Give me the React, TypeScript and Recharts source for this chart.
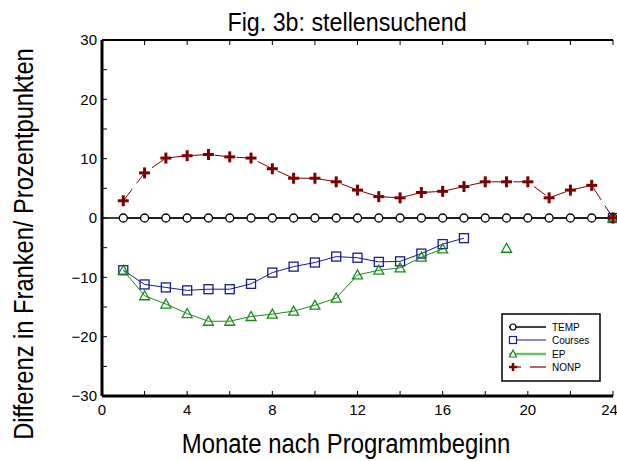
import React from 'react';
import {
  LineChart,
  Line,
  XAxis,
  YAxis,
  ReferenceLine,
} from 'recharts';

const months = [1, 2, 3, 4, 5, 6, 7, 8, 9, 10, 11, 12, 13, 14, 15, 16, 17, 18, 19, 20, 21, 22, 23, 24];
const tempValues = [0, 0, 0, 0, 0, 0, 0, 0, 0, 0, 0, 0, 0, 0, 0, 0, 0, 0, 0, 0, 0, 0, 0, 0];
const coursesValues = [-8.8, -11.2, -11.7, -12.2, -12.0, -12.0, -11.1, -9.2, -8.2, -7.5, -6.5, -6.7, -7.4, -7.3, -6.0, -4.4, -3.4, null, null, null, null, null, null, 0];
const epValues = [-8.8, -13.1, -14.5, -16.1, -17.4, -17.4, -16.6, -16.2, -15.7, -14.7, -13.5, -9.6, -8.8, -8.4, -6.6, -5.2, null, null, -5.1, null, null, null, null, 0];
const nonpValues = [2.9, 7.6, 10.1, 10.5, 10.7, 10.3, 10.1, 8.3, 6.7, 6.7, 6.1, 4.7, 3.6, 3.4, 4.3, 4.5, 5.3, 6.1, 6.1, 6.1, 3.4, 4.7, 5.5, 0];

const xTicks = [0, 2, 4, 6, 8, 10, 12, 14, 16, 18, 20, 22, 24];
const yTicks = [-30, -25, -20, -15, -10, -5, 0, 5, 10, 15, 20, 25, 30];

const seriesNames = ['TEMP', 'Courses', 'EP', 'NONP'];

const data = months.map((m, i) => ({
  month: m,
  temp: tempValues[i],
  courses: coursesValues[i],
  ep: epValues[i],
  nonp: nonpValues[i],
}));

const RED = '#7d0000';
const BLUE = '#1c1c8c';
const GREEN = '#1a8c1a';
const FONT = '"Liberation Sans", Arial, sans-serif';

const xFmt = (v: number) => (v % 4 === 0 ? String(v) : '');
const yFmt = (v: number) => (v % 10 === 0 ? (v < 0 ? '\u2212' + Math.abs(v) : String(v)) : '');
const blank = () => '';

const ok = (p: any) => p.cx != null && p.cy != null && p.value != null && !Number.isNaN(p.cy);

const CircleDot = (p: any) =>
  ok(p) ? <circle key={p.index} cx={p.cx} cy={p.cy} r={4} fill="white" stroke="#000" strokeWidth={1.3} /> : <g key={p.index} />;

const SquareDot = (p: any) =>
  ok(p) ? (
    <rect key={p.index} x={p.cx - 4.5} y={p.cy - 4.5} width={9} height={9} fill="none" stroke={BLUE} strokeWidth={1.3} />
  ) : (
    <g key={p.index} />
  );

const TriangleDot = (p: any) =>
  ok(p) ? (
    <polygon
      key={p.index}
      points={`${p.cx},${p.cy - 5} ${p.cx - 5},${p.cy + 4} ${p.cx + 5},${p.cy + 4}`}
      fill="none"
      stroke={GREEN}
      strokeWidth={1.3}
    />
  ) : (
    <g key={p.index} />
  );

const PlusDot = (p: any) =>
  ok(p) ? (
    <g key={p.index}>
      <line x1={p.cx - 5.5} y1={p.cy} x2={p.cx + 5.5} y2={p.cy} stroke={RED} strokeWidth={3} />
      <line x1={p.cx} y1={p.cy - 5.5} x2={p.cx} y2={p.cy + 5.5} stroke={RED} strokeWidth={3} />
    </g>
  ) : (
    <g key={p.index} />
  );

// legend box drawn as its own little svg on top of the chart
const LegendBox = () => {
  const rows = [14, 27, 41, 54];
  return (
    <svg width={100} height={70} style={{ display: 'block' }}>
      <rect x={1} y={1} width={98} height={67} fill="white" stroke="#000" strokeWidth={1.5} />
      <line x1={8} y1={rows[0]} x2={45} y2={rows[0]} stroke="#444" strokeWidth={2} />
      <circle cx={12} cy={rows[0]} r={3} fill="white" stroke="#000" strokeWidth={1.2} />
      <line x1={8} y1={rows[1]} x2={45} y2={rows[1]} stroke={BLUE} strokeWidth={1.2} />
      <rect x={8.5} y={rows[1] - 3.5} width={7} height={7} fill="white" stroke={BLUE} strokeWidth={1.2} />
      <line x1={8} y1={rows[2]} x2={45} y2={rows[2]} stroke="#6cbf6c" strokeWidth={2.5} />
      <polygon points={`12,${rows[2] - 4} 8.5,${rows[2] + 3} 15.5,${rows[2] + 3}`} fill="white" stroke={GREEN} strokeWidth={1.2} />
      <line x1={8} y1={rows[3]} x2={20} y2={rows[3]} stroke={RED} strokeWidth={1.2} />
      <line x1={29} y1={rows[3]} x2={45} y2={rows[3]} stroke={RED} strokeWidth={1.2} />
      <line x1={8} y1={rows[3]} x2={16} y2={rows[3]} stroke={RED} strokeWidth={2.5} />
      <line x1={12} y1={rows[3] - 4} x2={12} y2={rows[3] + 4} stroke={RED} strokeWidth={2.5} />
      {seriesNames.map((n, i) => (
        <text key={n} x={51} y={rows[i] + 3.5} fontSize={10} fontFamily={FONT} fill="#000">
          {n}
        </text>
      ))}
    </svg>
  );
};

// the original uses a narrow Helvetica, so the big labels are squeezed horizontally
const TitleLabel = () => (
  <text transform="translate(347,31) scale(0.895,1)" textAnchor="middle" fontSize={26} fontFamily={FONT} fill="#000">
    Fig. 3b: stellensuchend
  </text>
);

const XLabel = () => (
  <text transform="translate(346,453) scale(0.855,1)" textAnchor="middle" fontSize={28} fontFamily={FONT} fill="#000">
    Monate nach Programmbeginn
  </text>
);

const YLabel = () => (
  <text transform="translate(33,244) rotate(-90) scale(0.877,1)" textAnchor="middle" fontSize={27} fontFamily={FONT} fill="#000">
    Differenz in Franken/ Prozentpunkten
  </text>
);

const tickStyle = { fontSize: 15, fill: '#000', fontFamily: FONT };

export default function App() {
  return (
    <div style={{ position: 'absolute', left: 0, top: 0, width: 617, height: 461, background: 'white' }}>
      <LineChart width={617} height={461} data={data} margin={{ top: 0, right: 4, bottom: 0, left: 0 }}>
        <XAxis
          dataKey="month"
          type="number"
          domain={[0, 24]}
          ticks={xTicks}
          tickFormatter={xFmt}
          height={65}
          tickSize={-5}
          tickMargin={13}
          tick={tickStyle}
          axisLine={{ stroke: '#000', strokeWidth: 3 }}
          tickLine={{ stroke: '#000' }}
          label={<XLabel />}
        />
        <XAxis
          xAxisId="top"
          orientation="top"
          dataKey="month"
          type="number"
          domain={[0, 24]}
          ticks={xTicks}
          tickFormatter={blank}
          height={40}
          tickSize={-5}
          axisLine={{ stroke: '#000', strokeWidth: 2 }}
          tickLine={{ stroke: '#000' }}
          label={<TitleLabel />}
        />
        <YAxis
          type="number"
          domain={[-30, 30]}
          ticks={yTicks}
          tickFormatter={yFmt}
          width={102}
          tickSize={-5}
          tickMargin={10}
          tick={tickStyle}
          axisLine={{ stroke: '#000', strokeWidth: 3 }}
          tickLine={{ stroke: '#000' }}
          label={<YLabel />}
        />
        <YAxis
          yAxisId="right"
          orientation="right"
          type="number"
          domain={[-30, 30]}
          ticks={yTicks}
          tickFormatter={blank}
          width={0}
          tickSize={-5}
          axisLine={{ stroke: '#000', strokeWidth: 2 }}
          tickLine={{ stroke: '#000' }}
        />
        <ReferenceLine y={0} stroke="#000" strokeWidth={1.5} />
        {/* invisible helper series so the top and right frame axes get drawn */}
        <Line xAxisId="top" yAxisId="right" dataKey="temp" stroke="none" dot={false} activeDot={false} legendType="none" isAnimationActive={false} />
        <Line dataKey="temp" stroke="#000" strokeWidth={1} dot={CircleDot} isAnimationActive={false} />
        <Line dataKey="courses" stroke={BLUE} strokeWidth={1} dot={SquareDot} connectNulls={false} isAnimationActive={false} />
        <Line dataKey="ep" stroke={GREEN} strokeWidth={1} dot={TriangleDot} connectNulls={false} isAnimationActive={false} />
        <Line dataKey="nonp" stroke={RED} strokeWidth={1} strokeDasharray="15 7" dot={PlusDot} isAnimationActive={false} />
      </LineChart>
      <div style={{ position: 'absolute', left: 501, top: 313 }}>
        <LegendBox />
      </div>
    </div>
  );
}
